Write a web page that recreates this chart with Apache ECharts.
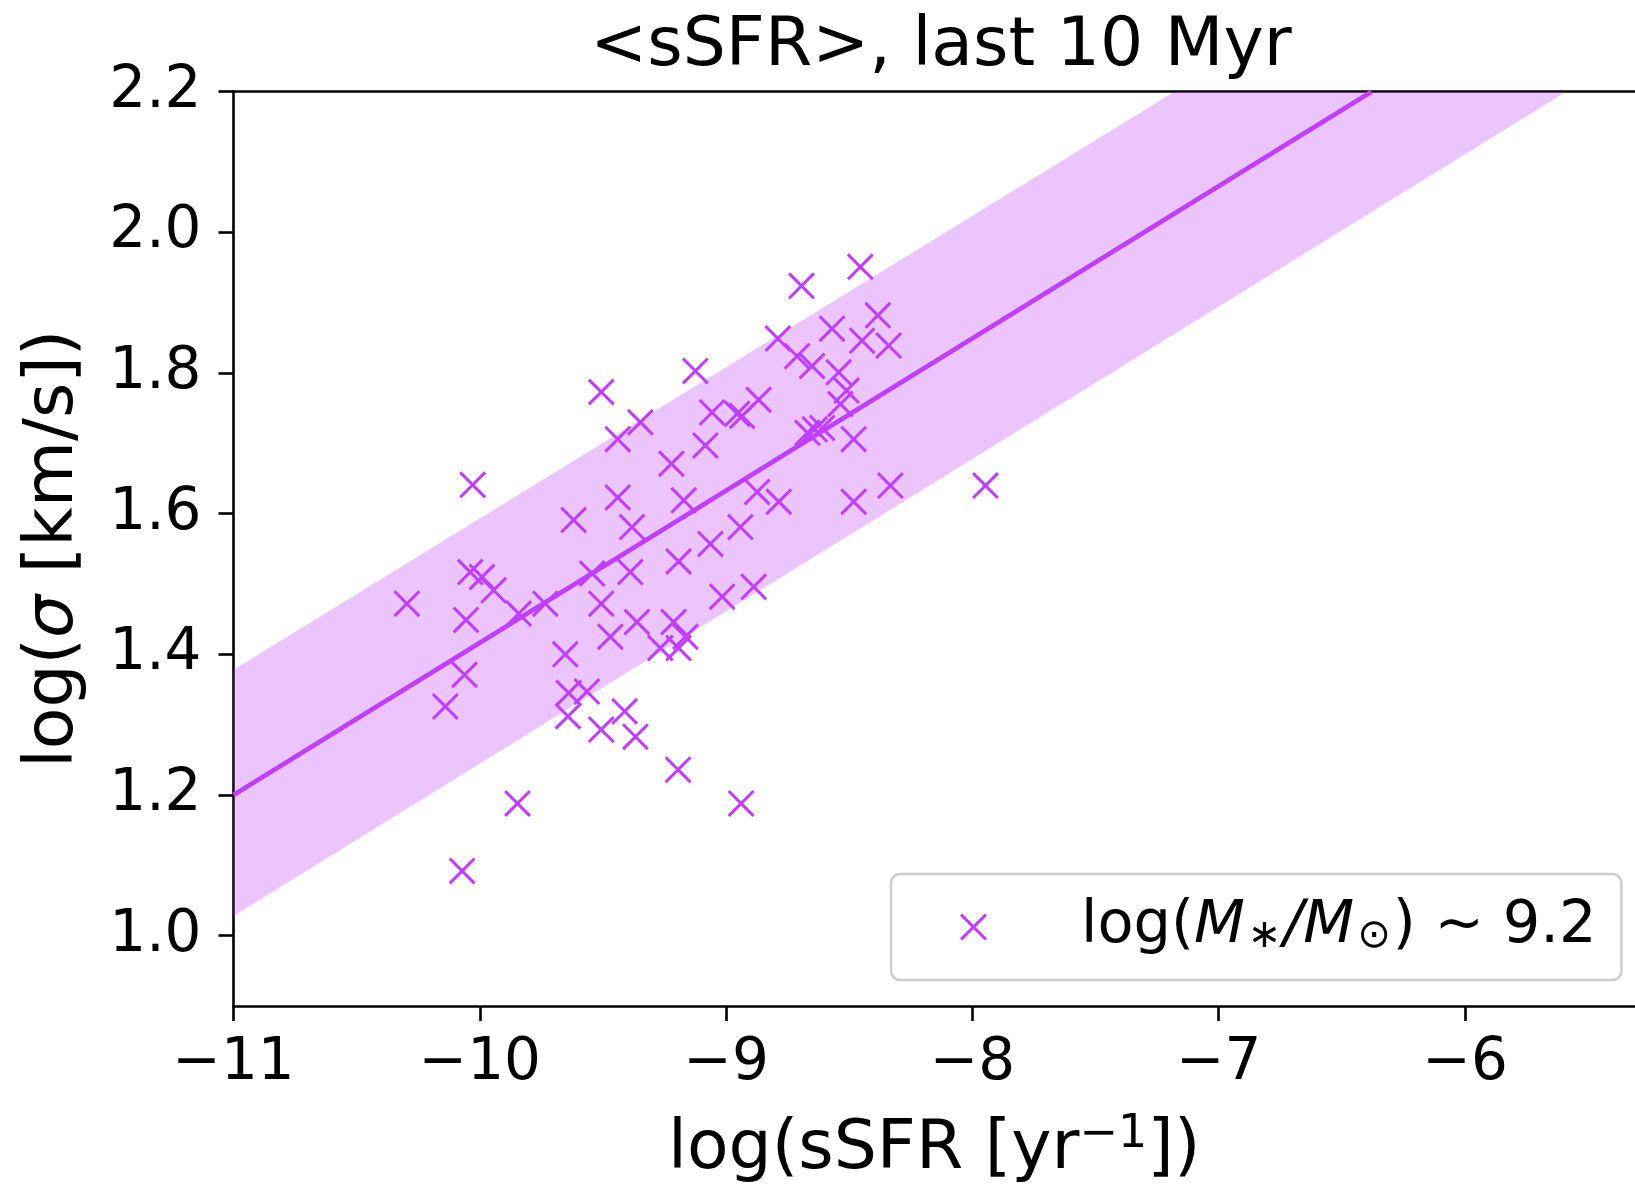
<!DOCTYPE html>
<html><head><meta charset="utf-8">
<script src="https://cdn.jsdelivr.net/npm/echarts@6/dist/echarts.min.js"></script>
<style>html,body{margin:0;padding:0;background:#fff}#c{width:1635px;height:1189px}</style>
</head><body><div id="c"></div>
<script>
const titleText = '<sSFR>, last 10 Myr';
const xTicks = [-11, -10, -9, -8, -7, -6];
const yTicks = [1.0, 1.2, 1.4, 1.6, 1.8, 2.0, 2.2];
const sSFR = [-9.507,-10.029,-9.348,-9.440,-9.222,-9.440,-9.619,-9.382,-9.172,-9.193,
  -8.455,-8.694,-8.384,-8.570,-8.790,-8.448,-8.340,-8.712,-8.651,-8.543,
  -9.125,-8.511,-8.536,-8.868,-9.057,-8.955,-8.935,-9.084,-8.670,-8.640,
  -8.610,-8.482,-8.333,-7.947,-8.482,-8.786,-8.874,-8.942,-9.064,-10.296,
  -10.056,-10.039,-9.991,-9.944,-9.842,-9.734,-9.544,-9.389,-9.507,-9.470,
  -9.362,-9.213,-9.267,-9.193,-9.165,-10.062,-10.140,-9.653,-9.639,-9.565,
  -9.642,-9.412,-9.507,-9.368,-9.195,-9.847,-10.072,-9.016,-8.888,-8.939];
const sigma = [1.773,1.641,1.730,1.706,1.671,1.623,1.591,1.581,1.619,1.532,
  1.951,1.924,1.882,1.863,1.849,1.846,1.839,1.824,1.810,1.801,
  1.803,1.775,1.756,1.762,1.744,1.742,1.739,1.697,1.715,1.720,
  1.722,1.706,1.640,1.640,1.617,1.617,1.631,1.581,1.557,1.472,
  1.449,1.517,1.510,1.491,1.458,1.472,1.515,1.517,1.472,1.425,
  1.446,1.446,1.409,1.409,1.425,1.371,1.326,1.400,1.345,1.347,
  1.312,1.319,1.293,1.283,1.236,1.188,1.092,1.482,1.496,1.188];
const fitLine = [[-11, 1.20], [-6.38, 2.20]];
const bandPoly = [[-11, 1.378], [-7.18, 2.20], [-5.59, 2.20], [-11, 1.028]];

const C = '#BF3EFF';
const BAND = 'rgba(191,62,255,0.3)';
const FONT = 'DejaVu Sans';
const CROSS = 'path://M0,8L8,0L100,92L92,100ZM92,0L100,8L8,100L0,92Z';
const fmtMinus = v => String(v).replace('-', '\u2212');

const chart = echarts.init(document.getElementById('c'), null, {renderer: 'canvas'});
chart.setOption({
  animation: false,
  backgroundColor: '#fff',
  title: {
    text: titleText, left: 936, top: 8, textAlign: 'center',
    textStyle: {fontFamily: FONT, fontSize: 68, fontWeight: 'normal', color: '#000'}
  },
  grid: {left: 233.5, right: 0, top: 91.7, bottom: 180.7, containLabel: false},
  legend: {
    left: 891, top: 874, orient: 'horizontal',
    data: ['m'],
    icon: CROSS, itemWidth: 27, itemHeight: 27,
    padding: [23, 25, 23, 69],
    backgroundColor: 'rgba(255,255,255,0.8)',
    borderColor: '#cccccc', borderWidth: 2.5, borderRadius: 9,
    formatter: () => '{n|log(}{i|M}{s|\u2217}{i|/M}{s|\u2299}{n|) ~ 9.2}',
    textStyle: {
      fontFamily: FONT, fontSize: 58, color: '#000', padding: [0, 0, 0, 89],
      rich: {
        n: {fontFamily: FONT, fontSize: 59, color: '#000', lineHeight: 72},
        i: {fontFamily: FONT, fontSize: 59, fontStyle: 'italic', color: '#000', lineHeight: 72},
        s: {fontFamily: FONT, fontSize: 40, color: '#000', lineHeight: 72, padding: [20, 2, 0, 3]}
      }
    }
  },
  xAxis: [{
    type: 'value', min: -11, max: -5.31, position: 'bottom',
    splitLine: {show: false},
    axisLine: {show: true, onZero: false, lineStyle: {color: '#000', width: 2.6}},
    axisTick: {show: true, inside: false, length: 15, customValues: xTicks, lineStyle: {color: '#000', width: 2.6}},
    axisLabel: {customValues: xTicks, formatter: fmtMinus, margin: 29, color: '#000', fontFamily: FONT, fontSize: 58},
    name: 'log(sSFR [yr{sup|\u22121}])', nameLocation: 'middle', nameGap: 106,
    nameTextStyle: {fontFamily: FONT, fontSize: 68, color: '#000',
      rich: {sup: {fontFamily: FONT, fontSize: 46, color: '#000', padding: [0, 0, 30, 0]}}}
  }, {
    type: 'value', min: -11, max: -5.31, position: 'top',
    splitLine: {show: false}, axisTick: {show: false}, axisLabel: {show: false},
    axisLine: {show: true, onZero: false, lineStyle: {color: '#000', width: 2.6}}
  }],
  yAxis: {
    type: 'value', min: 0.9, max: 2.2,
    splitLine: {show: false},
    axisLine: {show: true, onZero: false, lineStyle: {color: '#000', width: 2.6}},
    axisTick: {show: true, inside: false, length: 15, customValues: yTicks, lineStyle: {color: '#000', width: 2.6}},
    axisLabel: {customValues: yTicks, formatter: v => v.toFixed(1), margin: 32, color: '#000', fontFamily: FONT, fontSize: 58},
    name: 'log({i|\u03c3} [km/s])', nameLocation: 'middle', nameGap: 145,
    nameTextStyle: {fontFamily: FONT, fontSize: 68, color: '#000',
      rich: {i: {fontFamily: FONT, fontSize: 68, fontStyle: 'italic', color: '#000'}}}
  },
  series: [{
    type: 'custom', name: 'band', silent: true, z: 1,
    data: [0],
    renderItem: (params, api) => ({
      type: 'polygon',
      shape: {points: bandPoly.map(p => api.coord(p))},
      style: {fill: BAND}
    })
  }, {
    type: 'line', name: 'fit', data: fitLine, showSymbol: false, symbol: 'none', z: 2,
    lineStyle: {color: C, width: 4.6}
  }, {
    type: 'scatter', name: 'm', z: 3,
    data: sSFR.map((x, i) => [x, sigma[i]]),
    symbol: CROSS, symbolSize: 27,
    itemStyle: {color: C, opacity: 1}
  }]
});
</script></body></html>
